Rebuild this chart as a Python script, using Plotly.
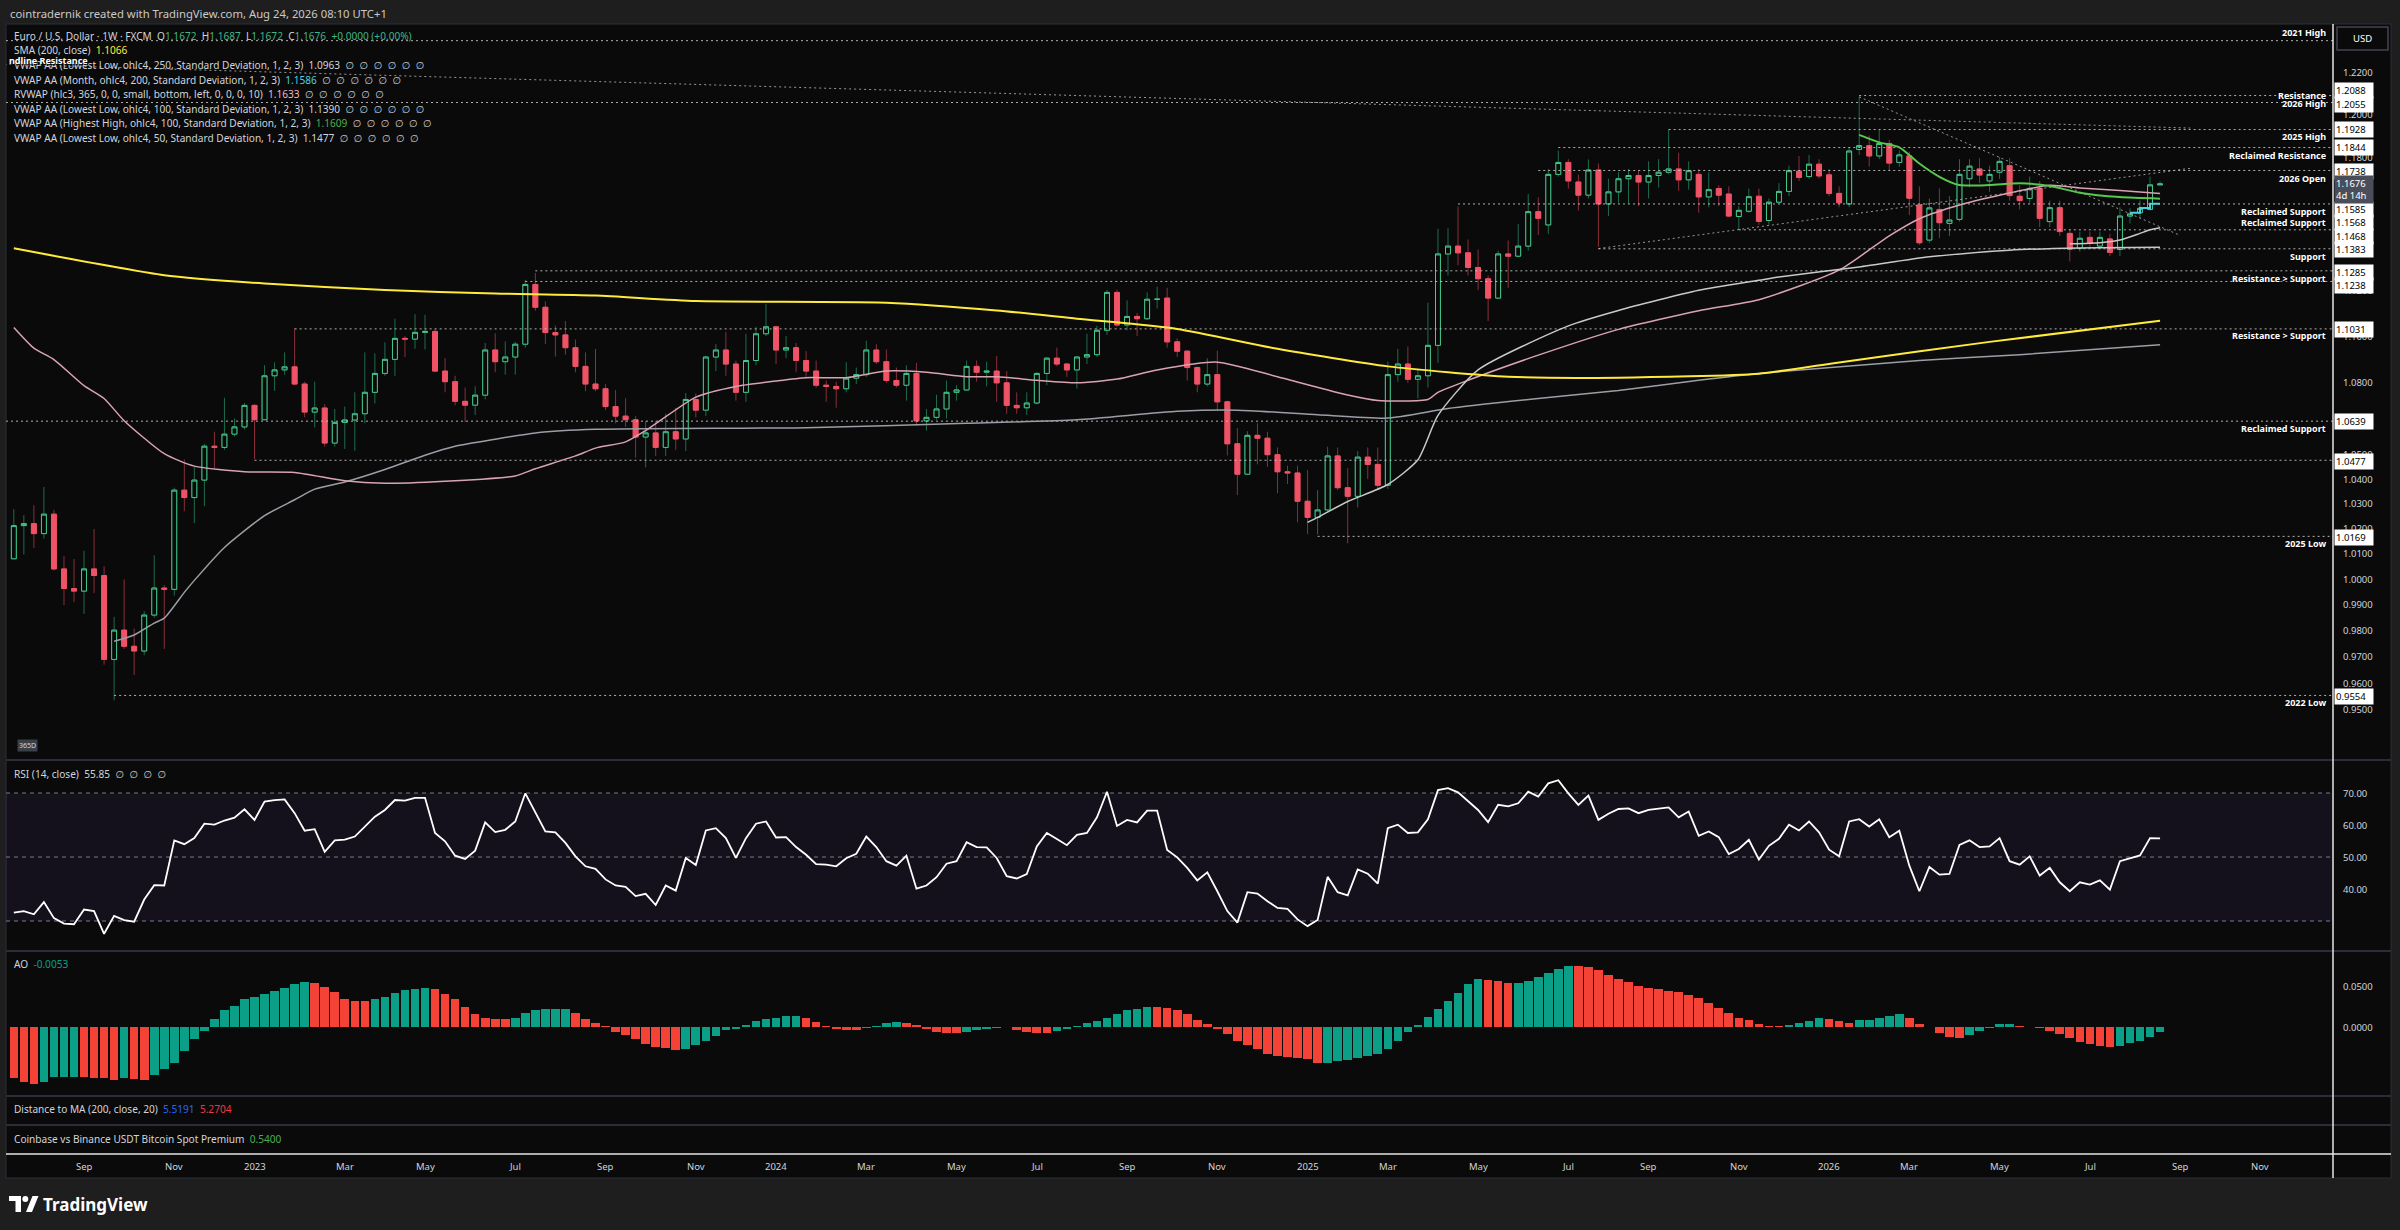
import math

import pandas as pd
import plotly.graph_objects as go

W, H = 2400, 1230
FONT = "Noto Sans, DejaVu Sans, sans-serif"

# Weekly EUR/USD (FXCM) candles, first bar = week of 2022-07-18
OPEN = [
    1.0080, 1.0212, 1.0220, 1.0180, 1.0258, 1.0040, 0.9963, 0.9953, 1.0040, 1.0014,
    0.9690, 0.9802, 0.9740, 0.9722, 0.9860, 0.9965, 0.9960, 1.0355, 1.0325, 1.0396,
    1.0535, 1.0530, 1.0585, 1.0615, 1.0705, 1.0645, 1.0830, 1.0855, 1.0868, 1.0795,
    1.0677, 1.0694, 1.0548, 1.0634, 1.0644, 1.0670, 1.0760, 1.0840, 1.0900, 1.0990,
    1.0987, 1.1016, 1.1020, 1.0850, 1.0805, 1.0722, 1.0706, 1.0748, 1.0940, 1.0890,
    1.0910, 1.0965, 1.1225, 1.1125, 1.1015, 1.1005, 1.0950, 1.0870, 1.0795, 1.0775,
    1.0700, 1.0660, 1.0645, 1.0573, 1.0590, 1.0530, 1.0595, 1.0565, 1.0730, 1.0685,
    1.0910, 1.0940, 1.0880, 1.0760, 1.0895, 1.1010, 1.1040, 1.0940, 1.0950, 1.0895,
    1.0850, 1.0790, 1.0785, 1.0775, 1.0820, 1.0835, 1.0940, 1.0890, 1.0810, 1.0790,
    1.0840, 1.0640, 1.0655, 1.0690, 1.0760, 1.0770, 1.0870, 1.0845, 1.0850, 1.0800,
    1.0705, 1.0695, 1.0715, 1.0840, 1.0905, 1.0880, 1.0855, 1.0910, 1.0920, 1.1025,
    1.1190, 1.1048, 1.1085, 1.1075, 1.1160, 1.1165, 1.0975, 1.0935, 1.0865, 1.0795,
    1.0835, 1.0720, 1.0545, 1.0420, 1.0580, 1.0568, 1.0500, 1.0430, 1.0425, 1.0310,
    1.0245, 1.0275, 1.0495, 1.0365, 1.0330, 1.0490, 1.0460, 1.0375, 1.0835, 1.0880,
    1.0815, 1.0830, 1.0960, 1.1360, 1.1395, 1.1365, 1.1300, 1.1250, 1.1165, 1.1360,
    1.1350, 1.1395, 1.1550, 1.1490, 1.1720, 1.1775, 1.1685, 1.1625, 1.1740, 1.1585,
    1.1640, 1.1700, 1.1715, 1.1685, 1.1715, 1.1730, 1.1745, 1.1695, 1.1720, 1.1617,
    1.1655, 1.1630, 1.1528, 1.1552, 1.1620, 1.1510, 1.1593, 1.1642, 1.1735, 1.1710,
    1.1767, 1.1718, 1.1633, 1.1585, 1.1835, 1.1853, 1.1805, 1.1863, 1.1775, 1.1805,
    1.1580, 1.1422, 1.1560, 1.1497, 1.1515, 1.1700, 1.1745, 1.1690, 1.1730, 1.1760,
    1.1620, 1.1610, 1.1656, 1.1505, 1.1568, 1.1452, 1.1385, 1.1434, 1.1395, 1.1427,
    1.1380, 1.1530, 1.1545, 1.1560, 1.1672,
]
HIGH = [
    1.0278, 1.0254, 1.0294, 1.0368, 1.0276, 1.0090, 1.0079, 1.0112, 1.0198, 1.0050,
    0.9853, 0.9999, 0.9808, 0.9875, 1.0094, 0.9976, 1.0365, 1.0480, 1.0450, 1.0545,
    1.0595, 1.0737, 1.0650, 1.0715, 1.0710, 1.0875, 1.0887, 1.0930, 1.1033, 1.0805,
    1.0805, 1.0710, 1.0690, 1.0700, 1.0760, 1.0930, 1.0925, 1.0973, 1.1075, 1.1000,
    1.1095, 1.1092, 1.1030, 1.0905, 1.0830, 1.0780, 1.0785, 1.0970, 1.1012, 1.0977,
    1.0975, 1.1245, 1.1276, 1.1150, 1.1045, 1.1065, 1.0985, 1.0930, 1.0945, 1.0795,
    1.0770, 1.0735, 1.0660, 1.0640, 1.0640, 1.0670, 1.0695, 1.0757, 1.0755, 1.0915,
    1.0965, 1.1017, 1.0895, 1.1010, 1.1040, 1.1140, 1.1045, 1.1000, 1.0970, 1.0935,
    1.0895, 1.0810, 1.0805, 1.0888, 1.0865, 1.0980, 1.0965, 1.0942, 1.0865, 1.0875,
    1.0885, 1.0690, 1.0750, 1.0810, 1.0790, 1.0895, 1.0895, 1.0890, 1.0915, 1.0850,
    1.0760, 1.0760, 1.0845, 1.0910, 1.0950, 1.0885, 1.0910, 1.1010, 1.1045, 1.1200,
    1.1202, 1.1155, 1.1100, 1.1190, 1.1215, 1.1210, 1.0990, 1.0940, 1.0870, 1.0905,
    1.0937, 1.0725, 1.0610, 1.0597, 1.0630, 1.0595, 1.0530, 1.0455, 1.0455, 1.0437,
    1.0355, 1.0533, 1.0530, 1.0445, 1.0515, 1.0530, 1.0530, 1.0890, 1.0945, 1.0955,
    1.0860, 1.1145, 1.1473, 1.1475, 1.1573, 1.1425, 1.1380, 1.1265, 1.1375, 1.1420,
    1.1495, 1.1630, 1.1615, 1.1745, 1.1830, 1.1790, 1.1720, 1.1789, 1.1770, 1.1700,
    1.1730, 1.1745, 1.1740, 1.1780, 1.1790, 1.1928, 1.1820, 1.1780, 1.1745, 1.1730,
    1.1670, 1.1665, 1.1575, 1.1655, 1.1655, 1.1610, 1.1680, 1.1760, 1.1805, 1.1810,
    1.1790, 1.1745, 1.1665, 1.1845, 1.2082, 1.1900, 1.1926, 1.1880, 1.1830, 1.1825,
    1.1665, 1.1610, 1.1656, 1.1620, 1.1790, 1.1790, 1.1795, 1.1760, 1.1800, 1.1795,
    1.1670, 1.1710, 1.1690, 1.1600, 1.1600, 1.1470, 1.1460, 1.1460, 1.1460, 1.1450,
    1.1570, 1.1565, 1.1600, 1.1710, 1.1687,
]
LOW = [
    1.0079, 1.0097, 1.0123, 1.0160, 1.0034, 0.9899, 0.9910, 0.9864, 0.9945, 0.9670,
    0.9536, 0.9730, 0.9631, 0.9706, 0.9850, 0.9730, 0.9935, 1.0270, 1.0222, 1.0290,
    1.0443, 1.0520, 1.0575, 1.0605, 1.0482, 1.0645, 1.0766, 1.0835, 1.0790, 1.0655,
    1.0613, 1.0533, 1.0533, 1.0524, 1.0516, 1.0630, 1.0713, 1.0830, 1.0830, 1.0910,
    1.0945, 1.0942, 1.0845, 1.0760, 1.0705, 1.0635, 1.0665, 1.0730, 1.0845, 1.0835,
    1.0835, 1.0950, 1.1110, 1.0965, 1.0912, 1.0920, 1.0845, 1.0765, 1.0765, 1.0685,
    1.0630, 1.0615, 1.0488, 1.0448, 1.0495, 1.0495, 1.0520, 1.0515, 1.0655, 1.0660,
    1.0850, 1.0830, 1.0725, 1.0720, 1.0875, 1.1000, 1.0880, 1.0905, 1.0845, 1.0820,
    1.0780, 1.0720, 1.0695, 1.0760, 1.0795, 1.0825, 1.0880, 1.0800, 1.0780, 1.0725,
    1.0620, 1.0600, 1.0645, 1.0650, 1.0725, 1.0765, 1.0805, 1.0785, 1.0720, 1.0670,
    1.0670, 1.0665, 1.0710, 1.0790, 1.0870, 1.0825, 1.0775, 1.0880, 1.0910, 1.1005,
    1.1040, 1.1025, 1.1000, 1.1070, 1.1120, 1.0950, 1.0910, 1.0810, 1.0760, 1.0785,
    1.0682, 1.0497, 1.0335, 1.0420, 1.0460, 1.0450, 1.0343, 1.0380, 1.0225, 1.0178,
    1.0177, 1.0265, 1.0355, 1.0141, 1.0285, 1.0400, 1.0360, 1.0360, 1.0805, 1.0800,
    1.0735, 1.0780, 1.0885, 1.1265, 1.1310, 1.1265, 1.1200, 1.1065, 1.1160, 1.1210,
    1.1345, 1.1375, 1.1445, 1.1450, 1.1710, 1.1655, 1.1555, 1.1610, 1.1392, 1.1530,
    1.1590, 1.1585, 1.1575, 1.1610, 1.1660, 1.1720, 1.1645, 1.1650, 1.1545, 1.1570,
    1.1575, 1.1525, 1.1470, 1.1545, 1.1490, 1.1490, 1.1585, 1.1620, 1.1690, 1.1700,
    1.1700, 1.1620, 1.1570, 1.1570, 1.1810, 1.1756, 1.1790, 1.1740, 1.1755, 1.1535,
    1.1400, 1.1410, 1.1430, 1.1440, 1.1505, 1.1660, 1.1680, 1.1640, 1.1700, 1.1600,
    1.1560, 1.1590, 1.1480, 1.1480, 1.1440, 1.1326, 1.1370, 1.1390, 1.1380, 1.1350,
    1.1350, 1.1497, 1.1520, 1.1555, 1.1672,
]
CLOSE = [
    1.0212, 1.0220, 1.0180, 1.0258, 1.0040, 0.9963, 0.9953, 1.0040, 1.0014, 0.9690,
    0.9802, 0.9740, 0.9722, 0.9860, 0.9965, 0.9960, 1.0355, 1.0325, 1.0396, 1.0535,
    1.0530, 1.0585, 1.0615, 1.0705, 1.0645, 1.0830, 1.0855, 1.0868, 1.0795, 1.0677,
    1.0694, 1.0548, 1.0634, 1.0644, 1.0670, 1.0760, 1.0840, 1.0900, 1.0990, 1.0987,
    1.1016, 1.1020, 1.0850, 1.0805, 1.0722, 1.0706, 1.0748, 1.0940, 1.0890, 1.0910,
    1.0965, 1.1225, 1.1125, 1.1015, 1.1005, 1.0950, 1.0870, 1.0795, 1.0775, 1.0700,
    1.0660, 1.0645, 1.0573, 1.0590, 1.0530, 1.0595, 1.0565, 1.0730, 1.0685, 1.0910,
    1.0940, 1.0880, 1.0760, 1.0895, 1.1010, 1.1040, 1.0940, 1.0950, 1.0895, 1.0850,
    1.0790, 1.0785, 1.0775, 1.0820, 1.0835, 1.0940, 1.0890, 1.0810, 1.0790, 1.0840,
    1.0640, 1.0655, 1.0690, 1.0760, 1.0770, 1.0870, 1.0845, 1.0850, 1.0800, 1.0705,
    1.0695, 1.0715, 1.0840, 1.0905, 1.0880, 1.0855, 1.0910, 1.0920, 1.1025, 1.1190,
    1.1048, 1.1085, 1.1075, 1.1160, 1.1160, 1.0975, 1.0935, 1.0865, 1.0795, 1.0835,
    1.0720, 1.0545, 1.0420, 1.0580, 1.0568, 1.0500, 1.0430, 1.0425, 1.0310, 1.0245,
    1.0275, 1.0495, 1.0365, 1.0330, 1.0490, 1.0460, 1.0375, 1.0835, 1.0880, 1.0815,
    1.0830, 1.0960, 1.1360, 1.1395, 1.1365, 1.1300, 1.1250, 1.1165, 1.1360, 1.1350,
    1.1395, 1.1550, 1.1520, 1.1720, 1.1775, 1.1690, 1.1625, 1.1740, 1.1585, 1.1640,
    1.1700, 1.1715, 1.1685, 1.1715, 1.1730, 1.1745, 1.1695, 1.1737, 1.1617, 1.1650,
    1.1625, 1.1530, 1.1556, 1.1618, 1.1506, 1.1593, 1.1642, 1.1737, 1.1706, 1.1767,
    1.1713, 1.1633, 1.1590, 1.1828, 1.1853, 1.1805, 1.1863, 1.1772, 1.1810, 1.1611,
    1.1410, 1.1567, 1.1500, 1.1512, 1.1720, 1.1758, 1.1717, 1.1720, 1.1780, 1.1623,
    1.1600, 1.1656, 1.1520, 1.1568, 1.1460, 1.1381, 1.1430, 1.1410, 1.1434, 1.1367,
    1.1530, 1.1540, 1.1565, 1.1672, 1.1676,
]

# RSI (14, close), one value per bar
RSI = [
    32.6, 33.1, 32.1, 35.9, 30.9, 29.2, 29.0, 33.6, 33.1, 26.0,
    31.6, 30.3, 29.8, 36.7, 41.2, 41.1, 55.2, 54.0, 55.9, 60.4,
    60.1, 61.4, 62.3, 64.9, 61.6, 67.3, 67.8, 68.0, 63.7, 58.2,
    58.7, 51.6, 55.2, 55.4, 56.4, 59.5, 62.6, 64.7, 67.8, 67.6,
    68.5, 68.5, 57.5, 54.9, 50.4, 49.4, 52.0, 60.8, 57.8, 58.5,
    61.1, 69.9, 63.9, 58.0, 57.7, 54.4, 50.2, 47.1, 46.3, 43.0,
    41.1, 40.7, 37.8, 38.5, 35.0, 41.1, 39.5, 49.7, 47.5, 58.3,
    59.0, 55.9, 49.7, 55.9, 60.4, 61.1, 56.1, 56.2, 53.1, 50.7,
    47.8, 47.6, 47.1, 49.6, 51.0, 56.4, 53.1, 48.7, 47.3, 50.4,
    40.1, 41.1, 43.7, 47.9, 48.7, 54.6, 53.1, 53.0, 49.7, 44.0,
    43.3, 44.7, 53.3, 57.5, 55.6, 53.7, 56.9, 57.5, 62.4, 70.4,
    59.7, 61.6, 60.8, 64.5, 64.5, 52.2, 49.9, 46.6, 42.7, 45.2,
    39.3, 33.1, 29.5, 39.0, 38.6, 36.2, 34.1, 33.8, 30.5, 28.4,
    30.3, 43.8, 39.0, 38.0, 46.1, 44.8, 41.7, 59.0, 60.1, 57.5,
    57.7, 61.8, 70.9, 71.5, 70.2, 67.6, 64.7, 60.9, 66.3, 65.8,
    66.8, 70.4, 68.9, 73.0, 74.0, 69.9, 66.3, 69.2, 61.6, 63.5,
    65.0, 65.2, 63.7, 64.7, 65.2, 65.5, 62.4, 64.2, 56.6, 58.0,
    56.2, 50.9, 52.5, 55.4, 49.2, 53.5, 55.7, 60.1, 58.3, 61.1,
    57.7, 52.3, 50.2, 61.1, 61.8, 59.5, 61.8, 56.2, 58.2, 47.3,
    39.3, 46.9, 44.5, 44.7, 53.8, 55.2, 53.1, 53.3, 55.9, 48.7,
    47.6, 50.2, 44.2, 46.6, 42.1, 39.3, 42.1, 41.4, 42.7, 39.8,
    48.7, 49.7, 50.5, 55.9, 55.85,
]

# Awesome Oscillator, one value per bar (AO_BEFORE = bar preceding the first one)
AO_BEFORE = -0.0590
AO = [
    -0.0617, -0.0657, -0.0685, -0.0657, -0.0605, -0.0601, -0.0597, -0.0605, -0.0609, -0.0617,
    -0.0637, -0.0617, -0.0629, -0.0637, -0.0577, -0.0508, -0.0435, -0.0282, -0.0145, -0.0040,
    0.0101, 0.0210, 0.0262, 0.0339, 0.0363, 0.0399, 0.0440, 0.0480, 0.0524, 0.0552,
    0.0540, 0.0492, 0.0423, 0.0343, 0.0323, 0.0319, 0.0339, 0.0371, 0.0419, 0.0452,
    0.0468, 0.0480, 0.0464, 0.0403, 0.0343, 0.0250, 0.0157, 0.0109, 0.0105, 0.0101,
    0.0117, 0.0169, 0.0210, 0.0220, 0.0222, 0.0224, 0.0177, 0.0101, 0.0048, 0.0016,
    -0.0052, -0.0093, -0.0145, -0.0206, -0.0242, -0.0254, -0.0274, -0.0266, -0.0214, -0.0165,
    -0.0105, -0.0032, -0.0016, 0.0028, 0.0081, 0.0105, 0.0109, 0.0133, 0.0137, 0.0117,
    0.0060, 0.0020, -0.0016, -0.0034, -0.0038, -0.0008, 0.0020, 0.0048, 0.0060, 0.0056,
    0.0024, -0.0024, -0.0052, -0.0065, -0.0073, -0.0052, -0.0032, -0.0016, -0.0006, -0.0002,
    -0.0032, -0.0052, -0.0070, -0.0075, -0.0040, -0.0016, 0.0016, 0.0048, 0.0077, 0.0117,
    0.0157, 0.0210, 0.0226, 0.0242, 0.0240, 0.0234, 0.0210, 0.0161, 0.0089, 0.0036,
    -0.0024, -0.0085, -0.0161, -0.0214, -0.0266, -0.0323, -0.0347, -0.0355, -0.0367, -0.0387,
    -0.0435, -0.0427, -0.0407, -0.0395, -0.0375, -0.0347, -0.0323, -0.0266, -0.0161, -0.0052,
    0.0024, 0.0121, 0.0218, 0.0319, 0.0411, 0.0524, 0.0581, 0.0573, 0.0560, 0.0538,
    0.0542, 0.0560, 0.0605, 0.0653, 0.0706, 0.0742, 0.0740, 0.0726, 0.0694, 0.0633,
    0.0585, 0.0552, 0.0500, 0.0472, 0.0460, 0.0444, 0.0423, 0.0391, 0.0351, 0.0298,
    0.0238, 0.0169, 0.0117, 0.0089, 0.0040, 0.0018, 0.0014, 0.0028, 0.0048, 0.0073,
    0.0109, 0.0097, 0.0077, 0.0048, 0.0087, 0.0091, 0.0117, 0.0137, 0.0157, 0.0109,
    0.0036, 0.0008, -0.0073, -0.0123, -0.0127, -0.0093, -0.0044, -0.0012, 0.0036, 0.0044,
    0.0020, 0.0008, -0.0012, -0.0044, -0.0085, -0.0125, -0.0177, -0.0206, -0.0222, -0.0242,
    -0.0222, -0.0194, -0.0161, -0.0121, -0.0053,
]

# Overlay lines read at sample bars (bar number, value)
SMA_BAR = [0, 15, 25, 37, 48, 58, 68, 87, 98, 106, 116, 126, 137, 149, 160, 174, 182, 197, 214]
SMA_VAL = [1.1385, 1.1266, 1.1229, 1.1200, 1.1185, 1.1176, 1.1152, 1.1145, 1.1111, 1.1075,
           1.1031, 1.0945, 1.0870, 1.0826, 1.0822, 1.0839, 1.0887, 1.0975, 1.1066]

LL250_BAR = [10, 12, 14, 15, 17, 18, 21, 25, 28, 30, 33, 37, 41, 44, 48, 52, 58, 79, 95, 106,
             116, 122, 130, 137, 143, 152, 160, 168, 174, 190, 200, 214]
LL250_VAL = [0.9759, 0.9783, 0.9829, 0.9848, 0.9948, 0.9995, 1.0125, 1.0252, 1.0316, 1.0359,
             1.0388, 1.0439, 1.0498, 1.0535, 1.0564, 1.0590, 1.0605, 1.0612, 1.0630, 1.0645,
             1.0680, 1.0685, 1.0666, 1.0652, 1.0692, 1.0734, 1.0768, 1.0811, 1.0840, 1.0895,
             1.0920, 1.0963]

RVWAP_BAR = [0, 2, 4, 7, 9, 11, 15, 18, 23, 28, 33, 37, 44, 50, 52, 56, 58, 61, 63, 68,
             72, 76, 79, 83, 87, 91, 95, 98, 102, 106, 110, 114, 120, 126, 133, 136, 141, 142,
             145, 152, 160, 168, 174, 182, 187, 190, 194, 199, 203, 206, 210, 214]
RVWAP_VAL = [1.1037, 1.0948, 1.0899, 1.0788, 1.0734, 1.0641, 1.0504, 1.0453, 1.0430, 1.0427,
             1.0393, 1.0383, 1.0393, 1.0413, 1.0442, 1.0495, 1.0527, 1.0553, 1.0600, 1.0740,
             1.0785, 1.0808, 1.0822, 1.0822, 1.0850, 1.0845, 1.0826, 1.0826, 1.0811, 1.0800,
             1.0816, 1.0855, 1.0888, 1.0826, 1.0749, 1.0726, 1.0730, 1.0760, 1.0811, 1.0918,
             1.1029, 1.1110, 1.1158, 1.1288, 1.1441, 1.1518, 1.1580, 1.1635, 1.1670, 1.1658,
             1.1646, 1.1633]

LL100_BAR = [129, 130, 133, 137, 140, 142, 146, 155, 160, 168, 174, 176, 184, 191, 199, 206, 214]
LL100_VAL = [1.0225, 1.0245, 1.0309, 1.0378, 1.0479, 1.0663, 1.0855, 1.1044, 1.1111, 1.1199,
             1.1243, 1.1258, 1.1302, 1.1347, 1.1377, 1.1387, 1.1390]

HH100_BAR = [184, 186, 188, 190, 192, 194, 197, 200, 203, 206, 210, 214]
HH100_VAL = [1.1903, 1.1868, 1.1845, 1.1770, 1.1709, 1.1671, 1.1671, 1.1679, 1.1667, 1.1636,
             1.1616, 1.1609]

LL50_BAR = [205, 208, 210, 212, 213, 214]
LL50_VAL = [1.1405, 1.1410, 1.1422, 1.1452, 1.1468, 1.1477]

MONTH_BAR = [211, 212, 213, 214]
MONTH_VAL = [1.1545, 1.1545, 1.1567, 1.1586]

# Horizontal levels (price, first bar; None = whole chart)
LEVEL_PRICE = [1.2351, 1.2088, 1.2055, 1.1928, 1.1844, 1.1738, 1.1585, 1.1468, 1.1383,
               1.1285, 1.1238, 1.1031, 1.0639, 1.0477, 1.0169, 0.9554]
LEVEL_FROM = [None, 184, None, 165, 154, 152, 144, 172, 158, 52, 51, 28, None, 24, 130, 10]

LABEL_TEXT = ["2021 High", "Resistance", "2026 High", "2025 High", "Reclaimed Resistance",
              "2026 Open", "Reclaimed Support", "Reclaimed Support", "Support",
              "Resistance > Support", "Resistance > Support", "Reclaimed Support",
              "2025 Low", "2022 Low"]
LABEL_PRICE = [1.2351, 1.2088, 1.2055, 1.1928, 1.1844, 1.1738, 1.1585, 1.1468, 1.1383,
               1.1285, 1.1031, 1.0639, 1.0169, 0.9554]
LABEL_SHIFT = [8, 0, -1, -7, -7.5, -8, -8, 7, -8, -8, -7, -7, -7.5, -7.5]

BOX_PRICE = [1.2088, 1.2055, 1.1928, 1.1844, 1.1738, 1.1585, 1.1568, 1.1468, 1.1383,
             1.1285, 1.1238, 1.1031, 1.0639, 1.0477, 1.0169, 0.9554]
BOX_SHIFT = [5.5, -1.5, 0, 0, -1, -5.5, -14.7, -6.3, -1, -2, -4, -1, 0, -1, -1, -1]
LAST_PRICE = 1.1676

# Sloped trendlines (dates, prices)
TREND_X = [["2022-07-08", "2026-09-14"], ["2026-01-26", "2026-09-07"], ["2025-07-28", "2026-09-14"]]
TREND_Y = [[1.2238, 1.1935], [1.2082, 1.1443], [1.1384, 1.1748]]

# price-axis labels that are not hidden behind value boxes
PRICE_TICKS = [0.95, 0.96, 0.97, 0.98, 0.99, 1.00, 1.01, 1.02, 1.03, 1.04, 1.05,
               1.08, 1.10, 1.12, 1.18, 1.20, 1.22]
RSI_TICKS = [40, 50, 60, 70]
AO_TICKS = [0.05, 0.0]

TIME_TICKS = ["2022-09-05", "2022-11-07", "2023-01-02", "2023-03-06", "2023-05-01", "2023-07-03",
              "2023-09-04", "2023-11-06", "2024-01-01", "2024-03-04", "2024-05-06", "2024-07-01",
              "2024-09-02", "2024-11-04", "2025-01-06", "2025-03-03", "2025-05-05", "2025-07-07",
              "2025-09-01", "2025-11-03", "2026-01-05", "2026-03-02", "2026-05-04", "2026-07-06",
              "2026-09-07", "2026-11-02"]
TIME_LABELS = ["Sep", "Nov", "2023", "Mar", "May", "Jul", "Sep", "Nov", "2024", "Mar", "May", "Jul",
               "Sep", "Nov", "2025", "Mar", "May", "Jul", "Sep", "Nov", "2026", "Mar", "May", "Jul",
               "Sep", "Nov"]

X_RANGE = ["2022-07-12 13:00", "2026-12-22 17:00"]

# Colours
BG = "#0a0a0a"
OUTER = "#1e1e1e"
TXT = "#d1d4dc"
UP = "#45c98d"
DN = "#f05366"
WICK_UP = "#1f6b4e"
WICK_DN = "#8a2f3b"
AO_UP = "#0b9f88"
AO_DN = "#f44336"
SEP = "#2a2e39"
LEVEL_CLR = "rgba(205,205,205,0.85)"

WEEKS = pd.date_range("2022-07-18", periods=len(CLOSE), freq="W-MON")


def px(v):
    return v / W


def py(v):
    return 1 - v / H


def at(bars):
    return [WEEKS[b] for b in bars]


fig = go.Figure()

# candles: wick layer then body layer
fig.add_trace(go.Candlestick(
    x=WEEKS, open=OPEN, high=HIGH, low=LOW, close=CLOSE,
    increasing=dict(line=dict(color=WICK_UP, width=1), fillcolor=WICK_UP),
    decreasing=dict(line=dict(color=WICK_DN, width=1), fillcolor=WICK_DN),
    hoverinfo="none", showlegend=False,
))
body_hi = [max(o, c) for o, c in zip(OPEN, CLOSE)]
body_lo = [min(o, c) for o, c in zip(OPEN, CLOSE)]
fig.add_trace(go.Candlestick(
    x=WEEKS, open=OPEN, high=body_hi, low=body_lo, close=CLOSE,
    increasing=dict(line=dict(color=UP, width=1), fillcolor=BG),
    decreasing=dict(line=dict(color=DN, width=1), fillcolor=DN),
    hoverinfo="none", showlegend=False,
))

# horizontal levels
for price, start in zip(LEVEL_PRICE, LEVEL_FROM):
    x0 = X_RANGE[0] if start is None else WEEKS[start]
    fig.add_trace(go.Scatter(
        x=[x0, X_RANGE[1]], y=[price, price], mode="lines",
        line=dict(color=LEVEL_CLR, width=1, dash="2px,3px"),
        hoverinfo="skip", showlegend=False,
    ))

for tx, ty in zip(TREND_X, TREND_Y):
    fig.add_trace(go.Scatter(
        x=tx, y=ty, mode="lines",
        line=dict(color="rgba(185,185,185,0.8)", width=1, dash="2px,3px"),
        hoverinfo="skip", showlegend=False,
    ))

# overlay indicators
overlays = [
    (LL250_BAR, LL250_VAL, "#9b9ea6", 1.5),
    (RVWAP_BAR, RVWAP_VAL, "#d9a3b4", 1.5),
    (LL100_BAR, LL100_VAL, "#c9c9c9", 1.5),
    (LL50_BAR, LL50_VAL, "#c9c9c9", 1.5),
    (HH100_BAR, HH100_VAL, "#57c84d", 2),
    (SMA_BAR, SMA_VAL, "#ffeb3b", 2),
]
for bars, vals, colour, width in overlays:
    fig.add_trace(go.Scatter(
        x=at(bars), y=vals, mode="lines",
        line=dict(color=colour, width=width, shape="spline", smoothing=0.6),
        hoverinfo="skip", showlegend=False,
    ))
fig.add_trace(go.Scatter(
    x=at(MONTH_BAR), y=MONTH_VAL, mode="lines",
    line=dict(color="#4dd0e1", width=2, shape="vh"),
    hoverinfo="skip", showlegend=False,
))

# RSI pane
fig.add_trace(go.Scatter(
    x=WEEKS, y=RSI, mode="lines", line=dict(color="#ffffff", width=1.8),
    xaxis="x2", yaxis="y2", hoverinfo="skip", showlegend=False,
))

# AO pane
prev = [AO_BEFORE] + AO[:-1]
ao_colors = [AO_UP if v >= p else AO_DN for v, p in zip(AO, prev)]
fig.add_trace(go.Bar(
    x=WEEKS, y=AO, marker=dict(color=ao_colors, line=dict(width=0)),
    width=7 * 86400000 * 0.86, xaxis="x3", yaxis="y3",
    hoverinfo="skip", showlegend=False,
))

# ---- shapes ----
shapes = [
    dict(type="rect", xref="paper", yref="paper", x0=px(6), x1=px(2391), y0=py(1178), y1=py(24),
         fillcolor=BG, line=dict(color=SEP, width=1), layer="below"),
    dict(type="rect", xref="paper", yref="y2", x0=px(6), x1=px(2333), y0=30, y1=70,
         fillcolor="rgba(126,87,194,0.10)", line=dict(width=0), layer="below"),
]
for lvl in (70, 50, 30):
    shapes.append(dict(type="line", xref="paper", yref="y2", x0=px(6), x1=px(2333), y0=lvl, y1=lvl,
                       line=dict(color="#787b86", width=1, dash="4px,4px"), layer="below"))
for sep_y in (760, 951, 1096, 1125):
    shapes.append(dict(type="line", xref="paper", yref="paper", x0=px(6), x1=px(2391),
                       y0=py(sep_y), y1=py(sep_y), line=dict(color=SEP, width=2)))
shapes.append(dict(type="line", xref="paper", yref="paper", x0=px(6), x1=px(2391),
                   y0=py(1154), y1=py(1154), line=dict(color="#e6e6e6", width=1.5)))
shapes.append(dict(type="line", xref="paper", yref="paper", x0=px(2333), x1=px(2333),
                   y0=py(1178), y1=py(24), line=dict(color="#e6e6e6", width=1.5)))
# USD button
shapes.append(dict(type="rect", xref="paper", yref="paper", x0=px(2337), x1=px(2388),
                   y0=py(50), y1=py(27), line=dict(color="#434651", width=1.5), fillcolor=BG))


# TradingView logo
def poly(points):
    return "M " + " L ".join(f"{px(a):.5f},{py(b):.5f}" for a, b in points) + " Z"


logo = [
    poly([(9, 1196), (21, 1196), (21, 1212), (15.5, 1212), (15.5, 1201), (9, 1201)]),
    poly([(26, 1212), (32.5, 1196), (38.5, 1196), (32, 1212)]),
]
for path in logo:
    shapes.append(dict(type="path", xref="paper", yref="paper", path=path,
                       fillcolor="#ffffff", line=dict(width=0)))
shapes.append(dict(type="circle", xref="paper", yref="paper", x0=px(22.3), x1=px(28.3),
                   y0=py(1202), y1=py(1196), fillcolor="#ffffff", line=dict(width=0)))

# ---- annotations ----
ann = []


def note(text, x, y, size=9.5, color=TXT, xanchor="left", yanchor="middle", **kw):
    ann.append(dict(text=text, x=x, y=y, xref=kw.pop("xref", "paper"), yref=kw.pop("yref", "paper"),
                    xanchor=xanchor, yanchor=yanchor, showarrow=False,
                    font=dict(family=FONT, size=size, color=color, **kw.pop("font", {})), **kw))


note("cointradernik created with TradingView.com, Aug 24, 2026 08:10 UTC+1", px(8), py(13), size=11.3,
     color="#c9c9c9")

G = "#3fb68b"
NB = "\u00a0"
SP = NB * 2


def empties(n):
    return SP.join(["\u2205"] * n)


legend_lines = [
    f"Euro / U.S. Dollar · 1W · FXCM{SP}O<span style='color:{G}'>1.1672</span>{SP}"
    f"H<span style='color:{G}'>1.1687</span>{SP}L<span style='color:{G}'>1.1672</span>{SP}"
    f"C<span style='color:{G}'>1.1676</span>{SP}<span style='color:{G}'>+0.0000 (+0.00%)</span>",
    f"SMA (200, close){SP}<span style='color:#ffeb3b'>1.1066</span>",
    f"VWAP AA (Lowest Low, ohlc4, 250, Standard Deviation, 1, 2, 3){SP}1.0963{SP}{empties(6)}",
    f"VWAP AA (Month, ohlc4, 200, Standard Deviation, 1, 2, 3){SP}"
    f"<span style='color:#4dd0e1'>1.1586</span>{SP}{empties(6)}",
    f"RVWAP (hlc3, 365, 0, 0, small, bottom, left, 0, 0, 0, 10){SP}"
    f"<span style='color:#f4b6c8'>1.1633</span>{SP}{empties(6)}",
    f"VWAP AA (Lowest Low, ohlc4, 100, Standard Deviation, 1, 2, 3){SP}1.1390{SP}{empties(6)}",
    f"VWAP AA (Highest High, ohlc4, 100, Standard Deviation, 1, 2, 3){SP}"
    f"<span style='color:#4caf50'>1.1609</span>{SP}{empties(6)}",
    f"VWAP AA (Lowest Low, ohlc4, 50, Standard Deviation, 1, 2, 3){SP}1.1477{SP}{empties(6)}",
]
for k, line in enumerate(legend_lines):
    note(line, px(12), py(35.7 + 14.6 * k), size=10.1)

note("<b>ndline Resistance</b>", px(7), py(60), size=9, color="#ffffff",
     font=dict(shadow="1px 1px 1px #000"))
note("365D", px(17), py(745), size=7, color=TXT, bgcolor="#3b3f4a", borderpad=1)

note(f"RSI (14, close){SP}55.85{SP}{empties(4)}", px(12), py(774), size=10.1)
note(f"AO{SP}<span style='color:{AO_UP}'>-0.0053</span>", px(12), py(964), size=10.1)
note(f"Distance to MA (200, close, 20){SP}<span style='color:#2962ff'>5.5191</span>{SP}"
     f"<span style='color:#f23645'>5.2704</span>", px(12), py(1109), size=10.1)
note(f"Coinbase vs Binance USDT Bitcoin Spot Premium{SP}<span style='color:#4caf50'>0.5400</span>",
     px(12), py(1139), size=10.1)

# level labels
for text, price, dy in zip(LABEL_TEXT, LABEL_PRICE, LABEL_SHIFT):
    note(f"<b>{text}</b>", px(2328), math.log10(price), size=9, color="#ffffff", xanchor="right",
         yref="y", yshift=dy, font=dict(shadow="1px 1px 1px #000"))

# price axis
for t in PRICE_TICKS:
    note(f"{t:.4f}", px(2341), math.log10(t), size=9.5, yref="y")
for price, dy in zip(BOX_PRICE, BOX_SHIFT):
    note(f"{price:.4f}", px(2334), math.log10(price), size=9.5, color="#000000", yref="y",
         yshift=dy, bgcolor="#ffffff", borderpad=1, width=36, align="left")
note(f"{LAST_PRICE:.4f}<br>4d 14h", px(2334), math.log10(LAST_PRICE), size=9.5, color="#ffffff",
     yref="y", yshift=-6, bgcolor="#4a4e5a", borderpad=1, width=36, align="left")
note("USD", px(2362.5), py(38.5), size=9.5, color="#ffffff", xanchor="center")

for t in RSI_TICKS:
    note(f"{t:.2f}", px(2341), t, size=9.5, yref="y2")
for t in AO_TICKS:
    note(f"{t:.4f}", px(2341), t, size=9.5, yref="y3")

for d, lab in zip(TIME_TICKS, TIME_LABELS):
    note(lab, d, py(1166), size=9.5, xref="x", xanchor="center")

note("<b>TradingView</b>", px(41), py(1204), size=17, color="#ffffff")

# ---- layout ----
axis_off = dict(showgrid=False, zeroline=False, showticklabels=False, showline=False, ticks="",
                fixedrange=True)
dom_x = [px(6), px(2333)]
fig.update_layout(
    width=W, height=H, autosize=False,
    margin=dict(l=0, r=0, t=0, b=0),
    paper_bgcolor=OUTER, plot_bgcolor="rgba(0,0,0,0)",
    hovermode=False, showlegend=False,
    font=dict(family=FONT, color=TXT),
    xaxis=dict(type="date", range=X_RANGE, domain=dom_x, anchor="y",
               rangeslider=dict(visible=False), **axis_off),
    xaxis2=dict(type="date", range=X_RANGE, domain=dom_x, anchor="y2", **axis_off),
    xaxis3=dict(type="date", range=X_RANGE, domain=dom_x, anchor="y3", **axis_off),
    yaxis=dict(type="log", range=[math.log10(0.93152), math.log10(1.2432)],
               domain=[py(760), py(24)], anchor="x", **axis_off),
    yaxis2=dict(range=[20.63, 80.31], domain=[py(951), py(760)], anchor="x2", **axis_off),
    yaxis3=dict(range=[-0.08317, 0.09237], domain=[py(1096), py(951)], anchor="x3", **axis_off),
    shapes=shapes,
    annotations=ann,
    bargap=0,
)

fig.write_html(
    "out.html",
    config={"displayModeBar": False, "staticPlot": True},
    post_script="document.body.style.margin='0';document.body.style.overflow='hidden';"
                "document.body.style.background='#1e1e1e';",
)
